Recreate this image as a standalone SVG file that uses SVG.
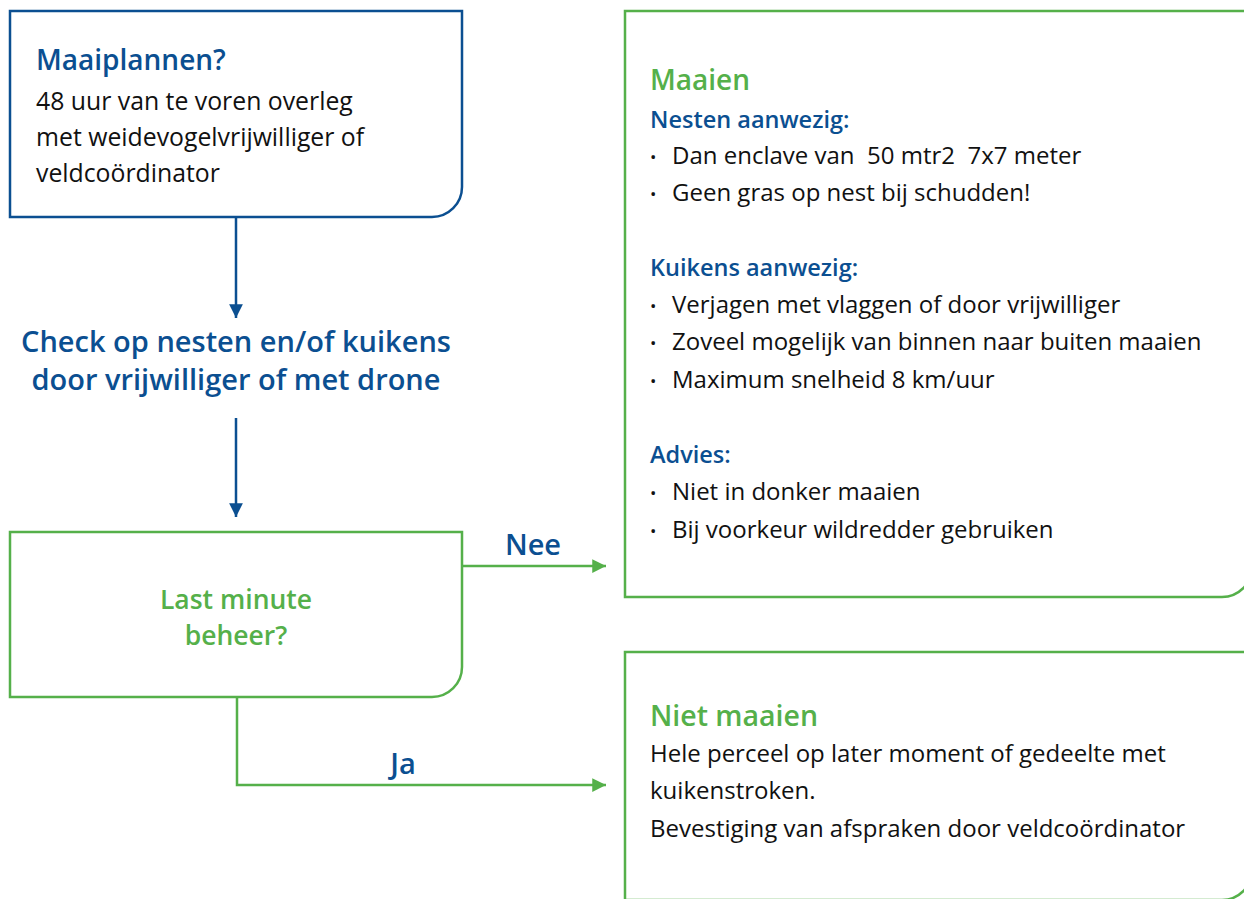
<svg xmlns="http://www.w3.org/2000/svg" width="1244" height="899" viewBox="0 0 1244 899">
<defs>
<style>
.t{font-family:"Open Sans","Noto Sans","Liberation Sans",sans-serif;}
.blue{fill:#0b4f91;}
.green{fill:#55b04a;}
.black{fill:#111111;}
.h{font-weight:600;}
.bx-b{fill:#ffffff;stroke:#0b4f91;stroke-width:2.5;}
.bx-g{fill:#ffffff;stroke:#55b04a;stroke-width:2.5;}
.ln-b{fill:none;stroke:#0b4f91;stroke-width:2.5;}
.ln-g{fill:none;stroke:#55b04a;stroke-width:2.5;}
.body{font-size:24px;}
.body1{font-size:24.8px;}
.sub{font-size:23.5px;}
.dot{font-size:17px;}
.pre{white-space:pre;}
</style>
<marker id="ab" viewBox="0 0 10 10" refX="10" refY="5" markerWidth="5.5" markerHeight="5.5" markerUnits="strokeWidth" orient="auto">
<path d="M0,0 L10,5 L0,10 z" fill="#0b4f91"/>
</marker>
<marker id="ag" viewBox="0 0 10 10" refX="10" refY="5" markerWidth="6.5" markerHeight="5.5" markerUnits="strokeWidth" orient="auto">
<path d="M0,0 L10,5 L0,10 z" fill="#55b04a"/>
</marker>
</defs>
<rect width="1244" height="899" fill="#ffffff"/>

<g id="connectors">
<line class="ln-b" x1="236" y1="217" x2="236" y2="318" marker-end="url(#ab)"/>
<line class="ln-b" x1="236" y1="418" x2="236" y2="517" marker-end="url(#ab)"/>
<line class="ln-g" x1="462" y1="566" x2="606" y2="566" marker-end="url(#ag)"/>
<polyline class="ln-g" points="237,697 237,785 606,785" marker-end="url(#ag)"/>
<text class="t h blue" x="533" y="555" font-size="29" text-anchor="middle">Nee</text>
<text class="t h blue" x="403" y="774" font-size="29" text-anchor="middle">Ja</text>
</g>

<g id="maaiplannen">
<path class="bx-b" d="M10,11 H462 V187 A30,30 0 0 1 432,217 H10 Z"/>
<text class="t h blue" x="36" y="70" font-size="28">Maaiplannen?</text>
<text class="t black body1" x="36" y="110">48 uur van te voren overleg</text>
<text class="t black body1" x="36" y="146">met weidevogelvrijwilliger of</text>
<text class="t black body1" x="36" y="182">veldcoördinator</text>
</g>

<g id="check">
<text class="t h blue" x="236" y="352" font-size="29" text-anchor="middle">Check op nesten en/of kuikens</text>
<text class="t h blue" x="236" y="390" font-size="29" text-anchor="middle">door vrijwilliger of met drone</text>
</g>

<g id="lastminute">
<path class="bx-g" d="M10,532 H462 V667 A30,30 0 0 1 432,697 H10 Z"/>
<text class="t h green" x="236" y="609" font-size="26.5" text-anchor="middle">Last minute</text>
<text class="t h green" x="236" y="645" font-size="26.5" text-anchor="middle">beheer?</text>
</g>

<g id="maaien">
<path class="bx-g" d="M625,11 H1252 V567 A30,30 0 0 1 1222,597 H625 Z"/>
<text class="t h green" x="650" y="90" font-size="28">Maaien</text>
<text class="t h blue sub" x="650" y="128">Nesten aanwezig:</text>
<text class="t black dot" x="650" y="163">•</text>
<text class="t black body pre" x="672" y="164">Dan enclave van  50 mtr2  7x7 meter</text>
<text class="t black dot" x="650" y="200">•</text>
<text class="t black body" x="672" y="201">Geen gras op nest bij schudden!</text>
<text class="t h blue sub" x="650" y="276">Kuikens aanwezig:</text>
<text class="t black dot" x="650" y="312">•</text>
<text class="t black body" x="672" y="313">Verjagen met vlaggen of door vrijwilliger</text>
<text class="t black dot" x="650" y="349">•</text>
<text class="t black body" x="672" y="350">Zoveel mogelijk van binnen naar buiten maaien</text>
<text class="t black dot" x="650" y="387">•</text>
<text class="t black body" x="672" y="388">Maximum snelheid 8 km/uur</text>
<text class="t h blue sub" x="650" y="463">Advies:</text>
<text class="t black dot" x="650" y="499">•</text>
<text class="t black body" x="672" y="500">Niet in donker maaien</text>
<text class="t black dot" x="650" y="537">•</text>
<text class="t black body" x="672" y="538">Bij voorkeur wildredder gebruiken</text>
</g>

<g id="nietmaaien">
<path class="bx-g" d="M625,652 H1252 V870 A30,30 0 0 1 1222,900 H625 Z"/>
<text class="t h green" x="650" y="726" font-size="28.5">Niet maaien</text>
<text class="t black body" x="650" y="762">Hele perceel op later moment of gedeelte met</text>
<text class="t black body" x="650" y="799">kuikenstroken.</text>
<text class="t black body" x="650" y="837">Bevestiging van afspraken door veldcoördinator</text>
</g>
</svg>
